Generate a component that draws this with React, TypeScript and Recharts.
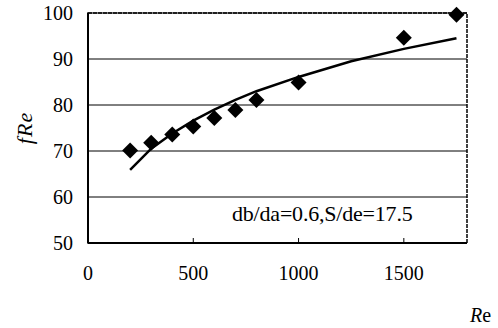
import {
  ScatterChart,
  Scatter,
  XAxis,
  YAxis,
  CartesianGrid,
  ReferenceArea,
} from 'recharts';

// measured points
const reValues = [200, 300, 400, 500, 600, 700, 800, 1000, 1500, 1750];
const fReValues = [70.1, 71.8, 73.6, 75.3, 77.2, 78.9, 81.1, 84.9, 94.6, 99.6];

// trend line
const fitRe = [200, 300, 400, 500, 600, 700, 800, 1000, 1250, 1500, 1750];
const fitFRe = [65.9, 70.5, 73.8, 76.6, 79.0, 81.1, 83.0, 86.1, 89.5, 92.2, 94.5];

const xTicks = [0, 500, 1000, 1500];
const yTicks = [50, 60, 70, 80, 90, 100];

const points = reValues.map((re, i) => ({ re, fre: fReValues[i] }));
const fit = fitRe.map((re, i) => ({ re, fre: fitFRe[i] }));

const font = '"Liberation Serif", "DejaVu Serif", "Times New Roman", serif';

const Diamond = (props: any) => {
  const { cx, cy } = props;
  const h = 8;
  return (
    <path
      d={`M${cx},${cy - h} L${cx + h},${cy} L${cx},${cy + h} L${cx - h},${cy} Z`}
      fill="#000"
    />
  );
};

export default function App() {
  return (
    <div style={{ position: 'relative', width: 498, height: 328, background: '#fff', fontFamily: font }}>
      <style>{'body{margin:0}'}</style>
      <ScatterChart
        width={498}
        height={328}
        margin={{ top: 13, right: 31, bottom: 45, left: 0 }}
        style={{ fontFamily: font }}
      >
        <CartesianGrid vertical={false} stroke="#000" strokeWidth={1} />
        <ReferenceArea
          x1={0}
          x2={1800}
          y1={50}
          y2={100}
          fill="none"
          stroke="#000"
          strokeWidth={1.5}
          strokeDasharray="4 1"
          ifOverflow="visible"
        />
        <XAxis
          type="number"
          dataKey="re"
          domain={[0, 1800]}
          ticks={xTicks}
          height={40}
          tickSize={-5}
          tickMargin={28}
          tickLine={{ stroke: '#000', strokeWidth: 1 }}
          axisLine={{ stroke: '#000', strokeWidth: 2 }}
          tick={{ fill: '#000', fontSize: 20, fontFamily: font }}
        />
        <YAxis
          type="number"
          dataKey="fre"
          domain={[50, 100]}
          ticks={yTicks}
          width={88}
          tickSize={0}
          tickMargin={15}
          tickLine={false}
          axisLine={{ stroke: '#000', strokeWidth: 2 }}
          tick={{ fill: '#000', fontSize: 20, fontFamily: font }}
        />
        <Scatter
          data={fit}
          line={{ stroke: '#000', strokeWidth: 2.5 }}
          shape={() => <g />}
          isAnimationActive={false}
        />
        <Scatter data={points} shape={Diamond} isAnimationActive={false} />
      </ScatterChart>
      <div
        style={{
          position: 'absolute',
          left: 25,
          top: 128,
          transform: 'translate(-50%, -50%) rotate(-90deg)',
          fontStyle: 'italic',
          fontSize: 22,
          letterSpacing: 1,
          lineHeight: 1,
          whiteSpace: 'nowrap',
        }}
      >
        fRe
      </div>
      <div
        style={{
          position: 'absolute',
          left: 470,
          top: 303,
          fontSize: 20,
          lineHeight: '24px',
          whiteSpace: 'nowrap',
        }}
      >
        <i>R</i>e
      </div>
      <div
        style={{
          position: 'absolute',
          left: 232,
          top: 201,
          fontSize: 22,
          lineHeight: '26px',
          letterSpacing: -0.2,
          whiteSpace: 'nowrap',
        }}
      >
        db/da=0.6,S/de=17.5
      </div>
    </div>
  );
}
